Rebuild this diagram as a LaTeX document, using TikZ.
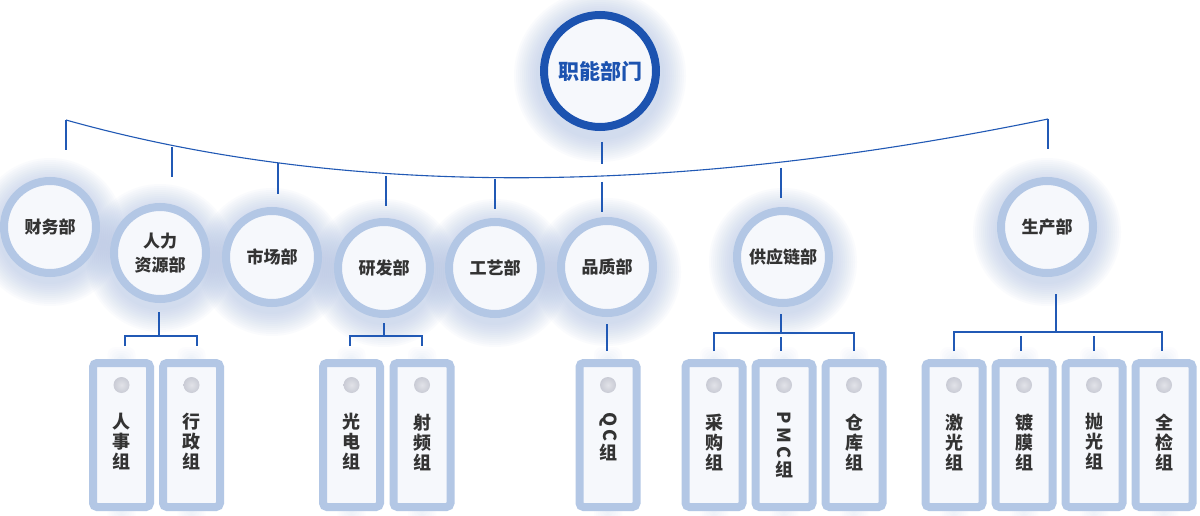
\documentclass[tikz,border=0pt]{standalone}
\usepackage{fontspec}
\setmainfont{Noto Sans CJK SC}
\usetikzlibrary{calc}
\definecolor{ringc}{HTML}{B3C7E5}
\definecolor{innerc}{HTML}{F6F8FC}
\definecolor{topc}{HTML}{1C53B0}
\definecolor{linec}{HTML}{2159B5}
\definecolor{txtc}{HTML}{333333}
\definecolor{holec}{HTML}{C9CBD5}
\definecolor{glowc}{HTML}{A9BDE3}
\newcommand\glowat[3]{%
  \foreach \k in {0,...,11}{\fill[glowc,opacity=0.05] (#1,#2+5) circle[radius={(#3+24-2*\k)*1pt}];}}
\newcommand\cardglow[1]{%
  \foreach \k in {0,...,5}{\fill[glowc,opacity=0.03,rounded corners=8pt] ($(#1,359)+(-4-2*\k,-2-2*\k)$) rectangle ($(#1,511)+(4+2*\k,4+2*\k)$);}}
\begin{document}
\begin{tikzpicture}[x=1pt,y=-1pt,
  dept/.style={circle,minimum size=92pt,inner sep=0pt,line width=8pt,draw=ringc,fill=innerc,
    text=txtc,font=\bfseries\fontsize{17}{24}\selectfont,align=center},
  topdept/.style={circle,minimum size=112pt,inner sep=0pt,line width=8pt,draw=topc,fill=innerc,
    text=topc,font=\bfseries\fontsize{21}{24}\selectfont},
  card/.style={rectangle,minimum width=57pt,minimum height=144pt,rounded corners=4pt,
    line width=8pt,draw=ringc,fill=innerc,inner sep=0pt},
  hole/.style={circle,minimum size=16pt,inner sep=0pt,shading=radial,inner color=holec!55!white,outer color=holec},
  ctext/.style={text=txtc,font=\bfseries\fontsize{18}{20}\selectfont,align=center,inner sep=0pt},
  conn/.style={draw=linec,line width=1.4pt},
  arcline/.style={draw=linec,line width=1.1pt}]
\useasboundingbox (0,0) rectangle (1200,516);
\fill[white] (0,0) rectangle (1200,516);
% glows
\glowat{600}{71}{62}
\glowat{50}{227}{50}
\glowat{160}{253}{50}
\glowat{272}{257}{50}
\glowat{384}{268}{50}
\glowat{495}{268}{50}
\glowat{607}{267}{50}
\glowat{783}{257}{50}
\glowat{1047}{227}{50}
\foreach \cx in {121.5,191.5,351.5,422,608,714,784,854,954,1024,1094,1164}{\cardglow{\cx}}
% top
\node[topdept] (top) at (600,71) {职能部门};
% arc
\coordinate (arcL) at (66,120);
\coordinate (arcR) at (1048,119);
\draw[arcline] (arcL) .. controls (342,197.3) and (669.3,197) .. (arcR);
% ticks
\coordinate (t1a) at (66,120);  \coordinate (t1b) at (66,150);
\coordinate (t2a) at (172,147); \coordinate (t2b) at (172,177);
\coordinate (t3a) at (278,163); \coordinate (t3b) at (278,194);
\coordinate (t4a) at (386,176); \coordinate (t4b) at (386,206);
\coordinate (t5a) at (495,179); \coordinate (t5b) at (495,209);
\coordinate (t0a) at (602,142); \coordinate (t0b) at (602,164);
\coordinate (t6a) at (602,182); \coordinate (t6b) at (602,212);
\coordinate (t7a) at (781,168); \coordinate (t7b) at (781,198);
\coordinate (t8a) at (1048,119); \coordinate (t8b) at (1048,149);
\foreach \t in {t0,t1,t2,t3,t4,t5,t6,t7,t8}{\draw[conn] (\t a) -- (\t b);}
% departments
\node[dept] (cw) at (50,227) {财务部};
\node[dept] (hr) at (160,253) {人力\\资源部};
\node[dept] (sc) at (272,257) {市场部};
\node[dept] (yf) at (384,268) {研发部};
\node[dept] (gy) at (495,268) {工艺部};
\node[dept] (pz) at (607,267) {品质部};
\node[dept] (gyl) at (783,257) {供应链部};
\node[dept] (sccb) at (1047,227) {生产部};
% cards
\foreach \n/\cx in {rs/121.5,xz/191.5,gd/351.5,sp/422,qc/608,cg/714,pmc/784,ck/854,jg/954,dm/1024,pg/1094,qj/1164}{
  \node[card] (\n) at (\cx,435) {};
  \node[hole] (\n h) at (\cx,385) {};
}
\node[ctext] at (121.5,442) {人\\事\\组};
\node[ctext] at (191.5,442) {行\\政\\组};
\node[ctext] at (351.5,442) {光\\电\\组};
\node[ctext] at (422,442) {射\\频\\组};
\node[ctext,rotate=-90] at (608,427) {Q\,C};
\node[ctext] at (608,452) {组};
\node[ctext] at (714,442) {采\\购\\组};
\node[ctext,rotate=-90] at (784,435) {P\,M\,C};
\node[ctext] at (784,469) {组};
\node[ctext] at (854,442) {仓\\库\\组};
\node[ctext] at (954,442) {激\\光\\组};
\node[ctext] at (1024,442) {镀\\膜\\组};
\node[ctext] at (1094,442) {抛\\光\\组};
\node[ctext] at (1164,442) {全\\检\\组};
% group 1: HR
\coordinate (g1s) at (159,312); \coordinate (g1m) at (159,336);
\coordinate (g1l) at (125,346); \coordinate (g1r) at (197,346);
\draw[conn] (g1s) -- (g1m);
\draw[conn] (g1l) |- (g1m) -| (g1r);
% group 2: R&D
\coordinate (g2s) at (384,323); \coordinate (g2m) at (384,336);
\coordinate (g2l) at (350,346); \coordinate (g2r) at (422,346);
\draw[conn] (g2s) -- (g2m);
\draw[conn] (g2l) |- (g2m) -| (g2r);
% group 3: QC
\coordinate (g3s) at (607,324); \coordinate (g3e) at (607,351);
\draw[conn] (g3s) -- (g3e);
% group 4: supply chain
\coordinate (g4s) at (781,314); \coordinate (g4m) at (781,333);
\coordinate (g4l) at (714,351); \coordinate (g4r) at (854,351);
\coordinate (g4c1) at (781,337); \coordinate (g4c2) at (781,351);
\draw[conn] (g4s) -- (g4m);
\draw[conn] (g4l) |- (g4m) -| (g4r);
\draw[conn] (g4c1) -- (g4c2);
% group 5: production
\coordinate (g5s) at (1056,294); \coordinate (g5m) at (1056,332);
\coordinate (g5l) at (954,351); \coordinate (g5r) at (1162,351);
\coordinate (g5a1) at (1021,336); \coordinate (g5a2) at (1021,351);
\coordinate (g5b1) at (1094,336); \coordinate (g5b2) at (1094,351);
\draw[conn] (g5s) -- (g5m);
\draw[conn] (g5l) |- (g5m) -| (g5r);
\draw[conn] (g5a1) -- (g5a2);
\draw[conn] (g5b1) -- (g5b2);
\end{tikzpicture}
\end{document}
